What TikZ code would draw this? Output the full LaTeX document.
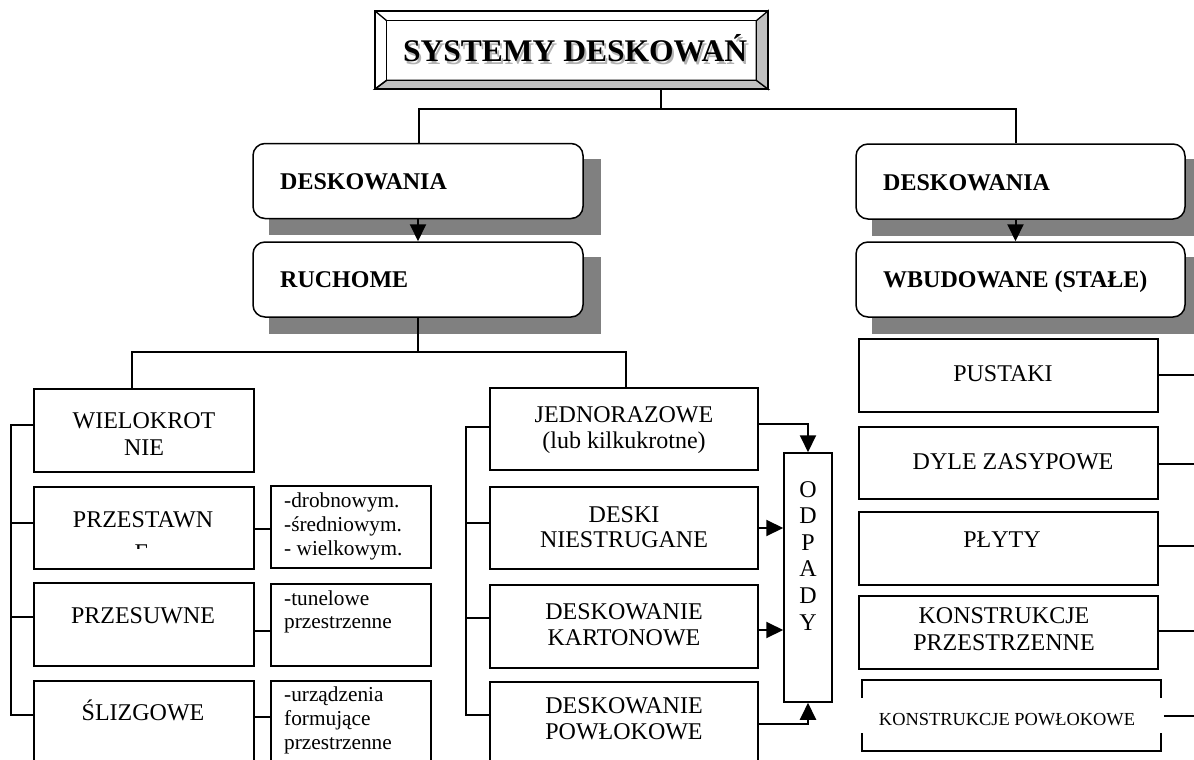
\documentclass[tikz,border=0pt]{standalone}
\usepackage{fontspec}
\setmainfont{Liberation Serif}
\usetikzlibrary{arrows.meta,backgrounds}
\definecolor{shgray}{HTML}{808080}
\definecolor{bevgray}{HTML}{C0C0C0}
\begin{document}
\begin{tikzpicture}[x=1pt,y=-1pt,
  box/.style={draw, line width=1.5pt, fill=white, inner sep=0pt},
  rbox/.style={box, rounded corners=12pt, minimum width=330pt, minimum height=75pt},
  lbox/.style={box, minimum width=220pt},
  sbox/.style={box, minimum width=160pt},
  mbox/.style={box, minimum width=268pt},
  rtbox/.style={box, minimum width=299pt},
  txt/.style={anchor=base, inner sep=0pt, font=\fontsize{24}{26}\selectfont},
  btxt/.style={anchor=base west, inner sep=0pt, font=\fontsize{24}{26}\selectfont\bfseries},
  stxt/.style={anchor=base west, inner sep=0pt, font=\fontsize{21.3}{24}\selectfont},
  conn/.style={line width=1.4pt},
  arr/.style={line width=2pt, -{Triangle[length=17pt,width=16pt]}}]
\useasboundingbox (0,0) rectangle (1194,760);
\clip (0,0) rectangle (1194,760);
\begin{scope}[on background layer]
  \fill[white] (0,0) rectangle (1194,760);
\end{scope}

% ---------- title ----------
\node[inner sep=0pt, minimum width=393pt, minimum height=78pt] (title) at (571.5,50) {};
\coordinate (i1) at ([shift={(12pt,-10pt)}]title.north west);
\coordinate (i2) at ([shift={(-12pt,-10pt)}]title.north east);
\coordinate (i3) at ([shift={(-12pt,9pt)}]title.south east);
\coordinate (i4) at ([shift={(12pt,9pt)}]title.south west);
\filldraw[fill=bevgray, line width=1.3pt] (title.south west) -- (title.south east) -- (i3) -- (i4) -- cycle;
\filldraw[fill=bevgray, line width=1.3pt] (title.north east) -- (title.south east) -- (i3) -- (i2) -- cycle;
\draw[line width=1.3pt] (title.north west) -- (i1) (title.south west) -- (i4);
\draw[line width=1.6pt] (title.north west) rectangle (title.south east);
\draw[line width=1.3pt] (i1) rectangle (i3);
\node[anchor=base west, inner sep=0pt, font=\fontsize{31.5}{34}\selectfont\bfseries, text=gray!60] (tsh) at (405,64) {SYSTEMY DESKOWAŃ};
\node[anchor=base west, inner sep=0pt, font=\fontsize{31.5}{34}\selectfont\bfseries] (ttx) at (403,62) {SYSTEMY DESKOWAŃ};

% ---------- rounded boxes ----------
\node[rbox] (desk1) at (418,181) {};
\node[rbox] (ruch) at (418,279.5) {};
\node[rbox, minimum width=329pt] (desk2) at (1020.5,181.5) {};
\node[rbox, minimum width=329pt] (wbud) at (1020.5,279.5) {};
\begin{scope}[on background layer]
  \foreach \n in {desk1,ruch,desk2,wbud}
    \fill[shgray] ([shift={(17pt,-16pt)}]\n.south west) rectangle ([shift={(17pt,-16pt)}]\n.north east);
\end{scope}
\node[btxt] (td1) at (280,189) {DESKOWANIA};
\node[btxt] (tr) at (280,287) {RUCHOME};
\node[btxt] (td2) at (883,190) {DESKOWANIA};
\node[btxt] (tw) at (883,287) {WBUDOWANE (STAŁE)};

% top connectors
\coordinate (t1) at (661,109);
\coordinate (h1) at (419,109);
\coordinate (h2) at (1016,109);
\draw[conn] (title.south -| t1) -- (t1);
\draw[conn] (desk1.north -| h1) -- (h1) -- (h2) -- (desk2.north -| h2);
\draw[arr] (desk1.south) -- (ruch.north);
\draw[arr] ([xshift=-5pt]desk2.south) -- ([xshift=-5pt]wbud.north);

% ---------- left column ----------
\node[lbox, minimum height=83pt] (wiel) at (144,430.5) {};
\node[lbox, minimum height=82pt] (przest) at (144,528) {};
\node[lbox, minimum height=83pt] (przes) at (144,624.5) {};
\node[lbox, minimum height=83pt] (slizg) at (144,722.5) {};
\node[sbox, minimum height=82pt] (s1) at (351,527) {};
\node[sbox, minimum height=82pt] (s2) at (351,625) {};
\node[sbox, minimum height=83pt] (s3) at (351,722.5) {};

\node[txt] (tw1) at (144,428) {WIELOKROT};
\node[txt] (tw2) at (144,455) {NIE};
\node[txt] (tp1) at (143,527) {PRZESTAWN};
\begin{scope}
  \clip (40,487) rectangle (250,548);
  \node[txt] (tp2) at (142,560) {E};
\end{scope}
\node[txt] (tps) at (143,623) {PRZESUWNE};
\node[txt] (tsl) at (143,720) {ŚLIZGOWE};

\node[stxt] (a1) at (284,507) {-drobnowym.};
\node[stxt] (a2) at (284,531) {-średniowym.};
\node[stxt] (a3) at (284,555) {- wielkowym.};
\node[stxt] (b1) at (284,605) {-tunelowe};
\node[stxt] (b2) at (284,628) {przestrzenne};
\node[stxt] (c1) at (284,701) {-urządzenia};
\node[stxt] (c2) at (284,725) {formujące};
\node[stxt] (c3) at (284,749) {przestrzenne};

\draw[conn] (przest.east |- 0,529) -- (s1.west |- 0,529);
\draw[conn] (przes.east |- 0,631) -- (s2.west |- 0,631);
\draw[conn] (slizg.east |- 0,717) -- (s3.west |- 0,717);

\draw[conn] (wiel.west |- 0,425) -- (11,425) -- (11,715) -- (slizg.west |- 0,715);
\draw[conn] (11,523) -- (przest.west |- 0,523);
\draw[conn] (11,617) -- (przes.west |- 0,617);

% ---------- middle column ----------
\node[mbox, minimum height=82pt] (jedn) at (624,429) {};
\node[mbox, minimum height=82pt] (deski) at (624,528) {};
\node[mbox, minimum height=83pt] (kart) at (624,626.5) {};
\node[mbox, minimum height=83pt] (powl) at (624,723.5) {};
\node[box, minimum width=48pt, minimum height=249pt] (odp) at (808,577.5) {};

\node[txt] (m1) at (624,422) {JEDNORAZOWE};
\node[txt] (m2) at (624,448) {(lub kilkukrotne)};
\node[txt] (m3) at (624,522) {DESKI};
\node[txt] (m4) at (624,547) {NIESTRUGANE};
\node[txt] (m5) at (624,619) {DESKOWANIE};
\node[txt] (m6) at (624,645) {KARTONOWE};
\node[txt] (m7) at (624,713) {DESKOWANIE};
\node[txt] (m8) at (624,739) {POWŁOKOWE};
\foreach \l [count=\i] in {O,D,P,A,D,Y}
  \node[txt] (od\i) at (808,{497+26.6*(\i-1)}) {\l};

% connectors from RUCHOME
\draw[conn] (ruch.south) -- (ruch.south |- 0,352);
\draw[conn] (wiel.north -| 132,0) -- (132,352) -- (626,352) -- (jedn.north -| 626,0);

\draw[conn] (jedn.west |- 0,427) -- (466,427) -- (466,715) -- (powl.west |- 0,715);
\draw[conn] (466,523) -- (deski.west |- 0,523);
\draw[conn] (466,618) -- (kart.west |- 0,618);

\draw[arr] (jedn.east |- 0,424) -| (odp.north);
\draw[arr] (deski.east) -- (odp.west |- deski.east);
\draw[arr] (kart.east |- 0,630) -- (odp.west |- 0,630);
\draw[arr] (powl.east) -| (odp.south);

% ---------- right column ----------
\node[rtbox, minimum height=73pt] (pust) at (1008.5,375.5) {};
\node[rtbox, minimum height=72pt] (dyle) at (1008.5,463) {};
\node[rtbox, minimum height=73pt] (plyty) at (1008.5,548.5) {};
\node[rtbox, minimum height=73pt] (kprz) at (1008.5,632.5) {};
\node[rtbox, minimum height=71pt] (kpow) at (1011.5,715.5) {};
\fill[white] (852,698) rectangle (1163,733);

\node[txt] (r1) at (1003,381) {PUSTAKI};
\node[txt] (r2) at (1013,469) {DYLE ZASYPOWE};
\node[txt] (r3) at (1002,547) {PŁYTY};
\node[txt] (r4) at (1004,623) {KONSTRUKCJE};
\node[txt] (r5) at (1004,650) {PRZESTRZENNE};
\node[anchor=base, inner sep=0pt, font=\fontsize{18.4}{20}\selectfont] (r6) at (1007,725) {KONSTRUKCJE POWŁOKOWE};

\draw[conn] (pust.east |- 0,375) -- (1194,375);
\draw[conn] (dyle.east |- 0,464) -- (1194,464);
\draw[conn] (plyty.east |- 0,546) -- (1194,546);
\draw[conn] (kprz.east |- 0,631) -- (1194,631);
\draw[conn] ([xshift=2pt]kpow.east |- 0,716) -- (1194,716);
\end{tikzpicture}
\end{document}
